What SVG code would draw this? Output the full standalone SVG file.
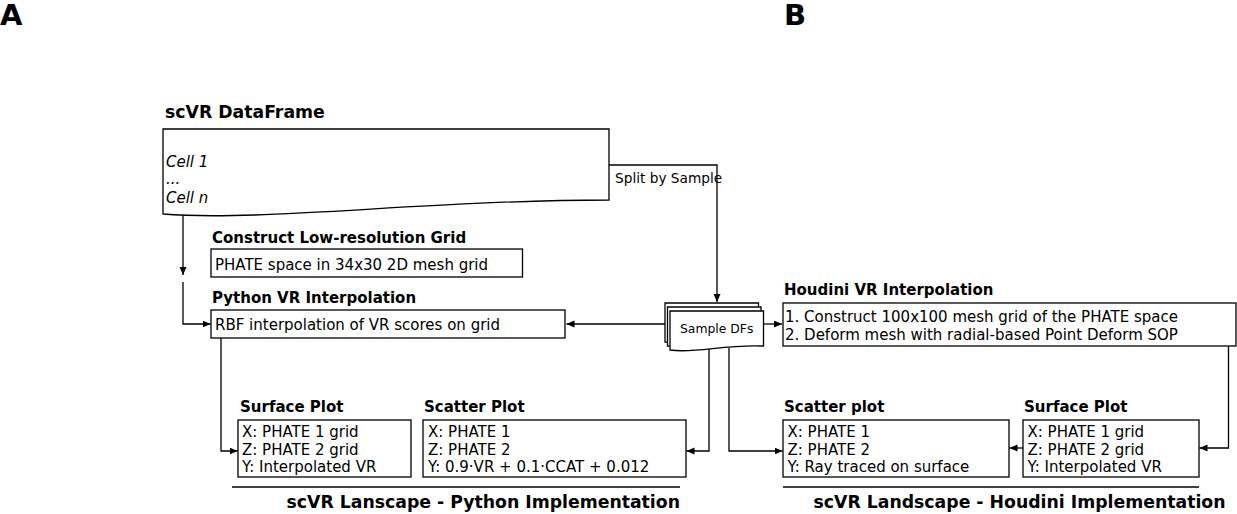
<svg xmlns="http://www.w3.org/2000/svg" width="1237" height="514" viewBox="0 0 1237 514">
<style>
text{font-family:"DejaVu Sans",sans-serif;fill:#000}
.t{font-size:15px}
.b{font-size:15px;font-weight:bold}
.h{font-size:17.3px;font-weight:bold}
.i{font-size:15px;font-style:italic}
.s{font-size:13.7px}
.box{fill:#fff;stroke:#000;stroke-width:1.3}
.c{fill:none;stroke:#000;stroke-width:1.3}
.ca{fill:none;stroke:#000;stroke-width:1.3;marker-end:url(#ah)}
.L{font-size:29px;font-weight:bold}
</style>
<defs>
<marker id="ah" markerUnits="userSpaceOnUse" markerWidth="9" markerHeight="8" refX="8" refY="3.5" orient="auto">
<path d="M0,0 L8,3.5 L0,7 z" fill="#000"/>
</marker>
</defs>
<text class="L" x="0" y="25">A</text>
<text class="L" x="784" y="25">B</text>

<g id="connectors">
<polyline class="ca" points="609,165 717,165 717,302"/>
<line class="ca" x1="183" y1="214" x2="183" y2="275"/>
<polyline class="ca" points="183,282 183,324 210.5,324"/>
<line class="ca" x1="665" y1="324" x2="566.5" y2="324"/>
<line class="ca" x1="763" y1="324" x2="782" y2="324"/>
<polyline class="ca" points="221,338 221,451 237.5,451"/>
<polyline class="ca" points="709,348 709,451 686.5,451"/>
<polyline class="ca" points="729,348 729,451 782.5,451"/>
<polyline class="ca" points="1228.5,346 1228.5,448 1199.5,448"/>
<line class="ca" x1="1023" y1="448" x2="1009.5" y2="448"/>
<line class="c" x1="232" y1="487" x2="680" y2="487"/>
<line class="c" x1="783" y1="487" x2="1199" y2="487"/>
</g>

<g id="dataframe">
<text class="h" x="165" y="118">scVR DataFrame</text>
<path class="box" d="M163,129 H609 V200 C430,200 260,222 163,214 Z"/>
<text class="i" x="166" y="166.5">Cell 1</text>
<text class="i" x="166" y="184">...</text>
<text class="i" x="166" y="202.5">Cell n</text>
</g>
<text class="s" x="615" y="183">Split by Sample</text>

<g id="sample-dfs">
<path class="box" d="M665,303 H758.5 V338 C720,336 690,345 665,342 Z"/>
<path class="box" d="M667.5,307 H761 V342 C722,340 692,349 667.5,346 Z"/>
<path class="box" d="M670,311 H763.5 V346 C725,344 695,354 670,350 Z"/>
<text x="716.7" y="333.3" text-anchor="middle" style="font-size:12.4px">Sample DFs</text>
</g>

<g id="construct-grid">
<text class="b" x="212" y="242.7">Construct Low-resolution Grid</text>
<rect class="box" x="211" y="249" width="311.5" height="28"/>
<text class="t" x="215" y="269.5">PHATE space in 34x30 2D mesh grid</text>
</g>

<g id="python-interp">
<text class="b" x="212" y="302.7">Python VR Interpolation</text>
<rect class="box" x="211" y="310" width="354" height="28"/>
<text class="t" x="215" y="330">RBF interpolation of VR scores on grid</text>
</g>

<g id="houdini-interp">
<text class="b" x="784" y="295">Houdini VR Interpolation</text>
<rect class="box" x="783" y="303" width="453" height="43"/>
<text class="t" x="785" y="321.5">1. Construct 100x100 mesh grid of the PHATE space</text>
<text class="t" x="785" y="339.5">2. Deform mesh with radial-based Point Deform SOP</text>
</g>

<g id="py-surface">
<text class="b" x="240" y="411.7">Surface Plot</text>
<rect class="box" x="238" y="420" width="173" height="57"/>
<text class="t" x="242" y="437">X: PHATE 1 grid</text>
<text class="t" x="242" y="454.5">Z: PHATE 2 grid</text>
<text class="t" x="242" y="472">Y: Interpolated VR</text>
</g>

<g id="py-scatter">
<text class="b" x="424" y="411.7">Scatter Plot</text>
<rect class="box" x="423" y="420" width="263" height="57"/>
<text class="t" x="428" y="437">X: PHATE 1</text>
<text class="t" x="428" y="454.5">Z: PHATE 2</text>
<text class="t" x="428" y="472">Y: 0.9·VR + 0.1·CCAT + 0.012</text>
</g>

<g id="hd-scatter">
<text class="b" x="784" y="411.7">Scatter plot</text>
<rect class="box" x="783" y="420" width="226" height="57"/>
<text class="t" x="787.5" y="437">X: PHATE 1</text>
<text class="t" x="787.5" y="454.5">Z: PHATE 2</text>
<text class="t" x="787.5" y="472">Y: Ray traced on surface</text>
</g>

<g id="hd-surface">
<text class="b" x="1024" y="411.7">Surface Plot</text>
<rect class="box" x="1023" y="420" width="176" height="57"/>
<text class="t" x="1027.5" y="437">X: PHATE 1 grid</text>
<text class="t" x="1027.5" y="454.5">Z: PHATE 2 grid</text>
<text class="t" x="1027.5" y="472">Y: Interpolated VR</text>
</g>

<g id="footers">
<text class="h" x="286.5" y="508">scVR Lanscape - Python Implementation</text>
<text class="h" x="813.5" y="508">scVR Landscape - Houdini Implementation</text>
</g>
</svg>
